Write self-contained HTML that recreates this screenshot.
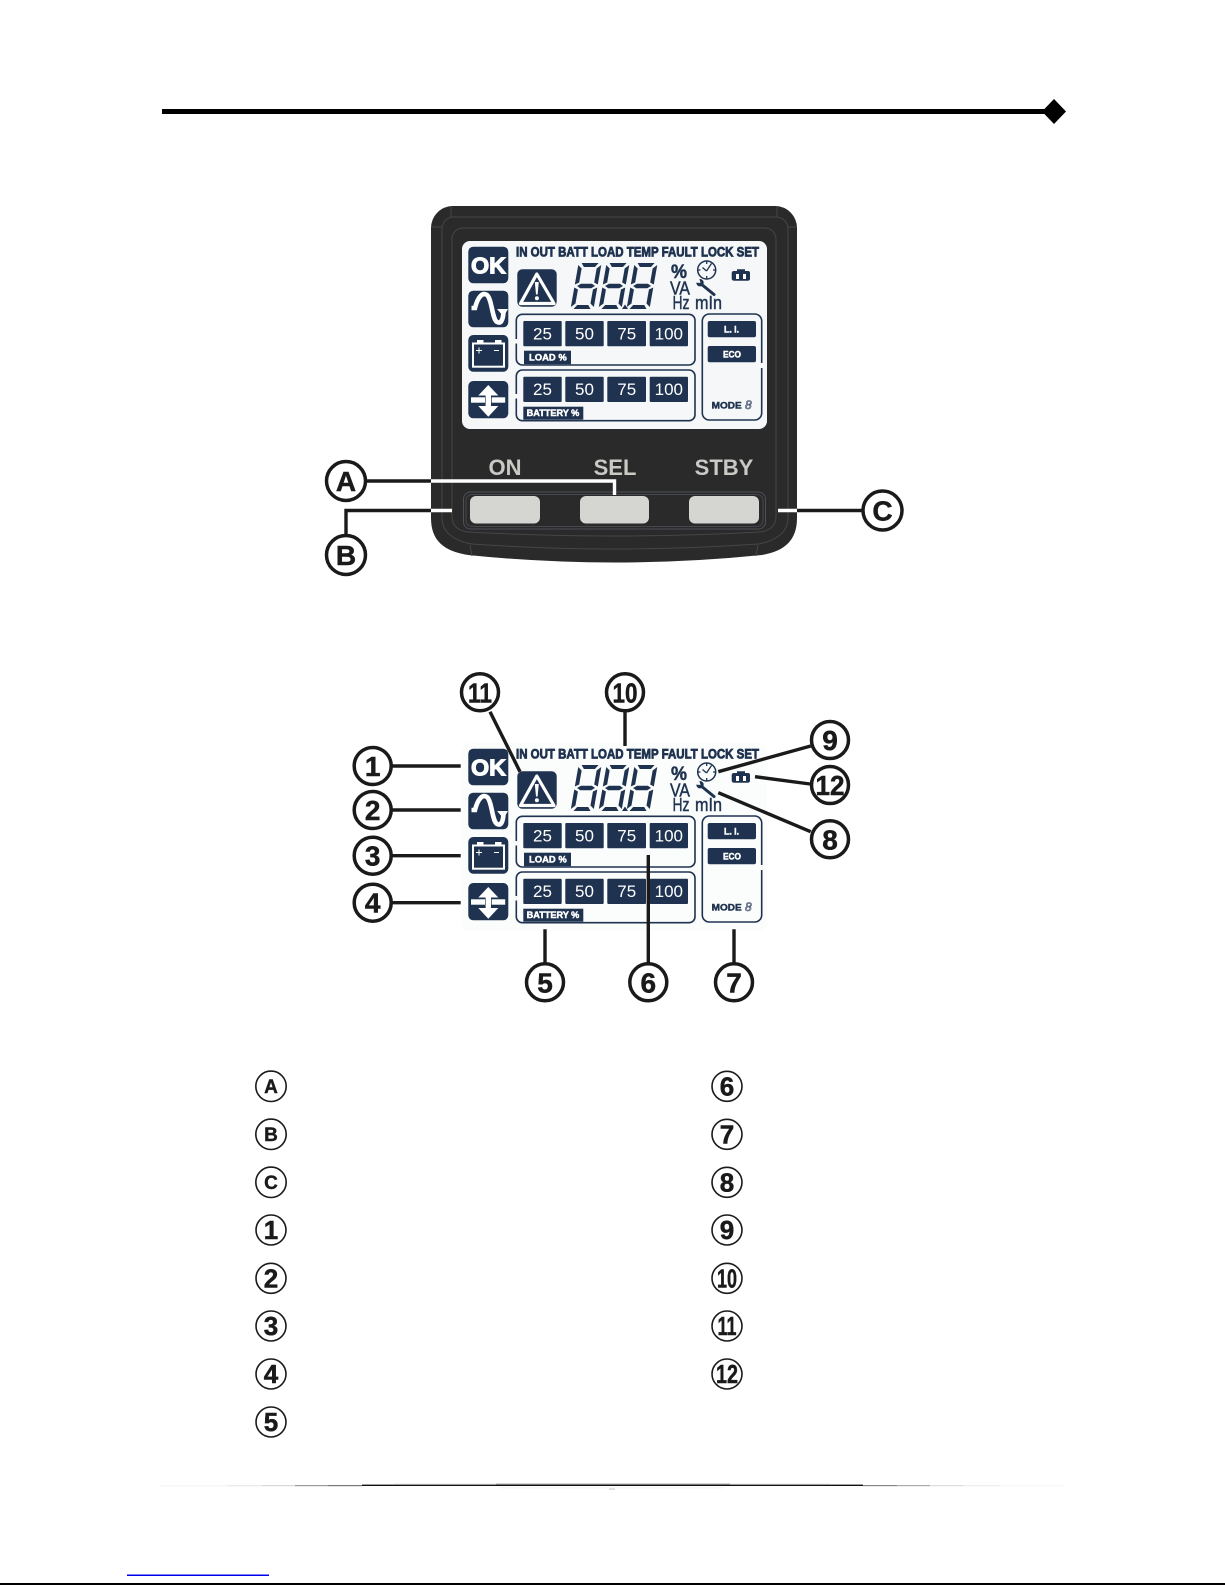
<!DOCTYPE html>
<html>
<head>
<meta charset="utf-8">
<style>
html,body{margin:0;padding:0;background:#fff}
svg{display:block;font-family:"Liberation Sans",sans-serif}
.t{fill:#fff;font-size:17px;text-anchor:middle}
.h{fill:#1f3350;stroke:#1f3350;stroke-width:.8;font-weight:bold;font-size:13.5px}
.s{fill:#fff;stroke:#fff;stroke-width:.45;font-weight:bold;font-size:9px}
.u{fill:#1f3350;stroke:#1f3350;stroke-width:.45;font-size:18px}
.c{fill:#fff;stroke:#1a1a1a;stroke-width:3.5}
.l{fill:none;stroke:#1a1a1a;stroke-width:3.4}
.n{fill:#1a1a1a;stroke:#1a1a1a;stroke-width:.5;font-weight:bold;text-anchor:middle;font-size:28px}
.lc{fill:#fff;stroke:#1a1a1a;stroke-width:1.6}
.ln{fill:#1a1a1a;stroke:#1a1a1a;stroke-width:.5;font-weight:bold;text-anchor:middle;font-size:26px}
.ll{fill:#1a1a1a;stroke:#1a1a1a;stroke-width:.4;font-weight:bold;text-anchor:middle;font-size:19px}
.k{fill:#c9c9c5;font-weight:bold;font-size:22px;text-anchor:middle}
.f{fill:none;stroke:#464646;stroke-width:1}
</style>
</head>
<body>
<svg xmlns="http://www.w3.org/2000/svg" width="1225" height="1585" viewBox="0 0 1225 1585">
<defs>
<g id="d" fill="#1f3350">
<polygon points="3,-46 20,-46 17,-42 6,-42"/>
<polygon points="0,-44 4,-40.5 4,-26.5 0,-24.5"/>
<polygon points="23,-44 19,-40.5 19,-26.5 23,-24.5"/>
<polygon points="2.5,-23 6,-25.2 17,-25.2 20.5,-23 17,-20.8 6,-20.8"/>
<polygon points="0,-21.5 4,-19.5 4,-5.5 0,-2"/>
<polygon points="23,-21.5 19,-19.5 19,-5.5 23,-2"/>
<polygon points="3,0 6,-4 17,-4 20,0"/>
</g>
<g id="art">
<rect x="468.3" y="246.7" width="40" height="36.6" rx="5" fill="#1f3350"/>
<rect x="468.3" y="290.7" width="40" height="36.6" rx="5" fill="#1f3350"/>
<path d="M471.5 308H475C478 296 483 292 487 295C492 299 492 319 497 322C501 324 503 320 503.5 312" fill="none" stroke="#fff" stroke-width="4.6"/>
<polygon points="497,309 508,309 503.5,316.5" fill="#fff"/>
<rect x="468.3" y="335" width="40" height="36.7" rx="5" fill="#1f3350"/>
<rect x="473" y="343.5" width="31" height="23.2" fill="#1f3350" stroke="#fff" stroke-width="2"/>
<rect x="477" y="340" width="6.5" height="3.5" fill="#fff"/>
<rect x="495" y="340" width="6.5" height="3.5" fill="#fff"/>
<path d="M476 350.5h6M479 347.5v6M494 350.5h5" stroke="#fff" stroke-width="1" fill="none"/>
<rect x="468.3" y="381" width="40" height="37.3" rx="5" fill="#1f3350"/>
<path d="M488.3 385L498.3 395.5H491V406H498.3L488.3 416.7L478.3 406H485.6V395.5H478.3Z" fill="#fff"/>
<rect x="471" y="397.3" width="14" height="5.4" fill="#fff"/>
<rect x="491.7" y="397.3" width="13.5" height="5.4" fill="#fff"/>
<rect x="517.3" y="269.3" width="39.4" height="37.4" rx="5" fill="#1f3350"/>
<polygon points="536.8,274 520.5,303.5 554,303.5" fill="#1f3350" stroke="#fff" stroke-width="3.2" stroke-linejoin="round"/>
<polygon points="534.8,282 538.8,282 537.6,294.5 536,294.5" fill="#fff"/>
<circle cx="536.9" cy="298.3" r="2" fill="#fff"/>
<use href="#d" transform="translate(570.5,309) skewX(-10)"/>
<use href="#d" transform="translate(598.5,309) skewX(-10)"/>
<use href="#d" transform="translate(626.5,309) skewX(-10)"/>
<polygon points="622,309 625,304.5 628,309" fill="#1f3350"/>
<circle cx="706.7" cy="270" r="9" fill="none" stroke="#1f3350" stroke-width="1.5"/>
<path d="M706.5 271L711.5 263.5M706.5 271L702.5 267.5M706.7 261.5v2.5M706.7 276v2.5M698 270h2.5M713 270h2.5" stroke="#1f3350" stroke-width="1.3" fill="none"/>
<path d="M700.5 283.5L714 294.5" stroke="#1f3350" stroke-width="3" stroke-linecap="round" fill="none"/>
<circle cx="700" cy="282.7" r="3.7" fill="#1f3350"/>
<polygon points="700.5,283 695,282.5 699,277.5" fill="#f8f9f9"/>
<path d="M734 280.7Q731.7 280.7 731.7 278.5V273Q731.7 271 734 271H737V269.3H745V271H748Q750 271 750 273V278.5Q750 280.7 748 280.7Z" fill="#1f3350"/>
<rect x="736" y="274" width="3" height="5" fill="#fff"/>
<rect x="743" y="274" width="3" height="5" fill="#fff"/>
<rect x="516.3" y="314.3" width="178.7" height="50.7" rx="6" fill="none" stroke="#1f3350" stroke-width="1.6"/>
<rect x="514" y="339" width="5" height="4.5" fill="#f8f9f9"/>
<rect x="516.3" y="370" width="178.7" height="50.7" rx="6" fill="none" stroke="#1f3350" stroke-width="1.6"/>
<rect x="514" y="394" width="5" height="4.5" fill="#f8f9f9"/>
<g fill="#1f3350">
<rect x="523.3" y="321" width="38.4" height="25.3" rx="1"/>
<rect x="565.3" y="321" width="38.4" height="25.3" rx="1"/>
<rect x="607.3" y="321" width="38.7" height="25.3" rx="1"/>
<rect x="649.7" y="321" width="38.3" height="25.3" rx="1"/>
<rect x="523.3" y="376.7" width="38.4" height="25.3" rx="1"/>
<rect x="565.3" y="376.7" width="38.4" height="25.3" rx="1"/>
<rect x="607.3" y="376.7" width="38.7" height="25.3" rx="1"/>
<rect x="649.7" y="376.7" width="38.3" height="25.3" rx="1"/>
<rect x="524" y="350.7" width="47" height="13.5"/>
<rect x="523.3" y="406.7" width="60" height="13"/>
<rect x="707.7" y="321" width="48.3" height="16.3" rx="2"/>
<rect x="707.7" y="346" width="48.3" height="16.3" rx="2"/>
</g>
<rect x="702.3" y="314" width="59.4" height="106" rx="7" fill="none" stroke="#1f3350" stroke-width="1.6"/>
<rect x="759.5" y="363" width="4.5" height="5" fill="#f8f9f9"/>
</g>
</defs>

<!-- header rule -->
<rect x="162" y="109" width="885" height="5" fill="#000"/>
<polygon points="1054,99 1066,111.5 1054,124 1042,111.5" fill="#000"/>

<!-- device panel -->
<path d="M453 206H775A22 22 0 0 1 797 228V518C797 540 785 551 762 555Q614 570 468 555C443 551 431 540 431 518V228A22 22 0 0 1 453 206Z" fill="#2a2a2a"/>
<path d="M452 217H776A12 12 0 0 1 788 229V518C788 532 776 541 758 544Q614 554 472 544C454 541 442 532 442 518V229A12 12 0 0 1 452 217Z" class="f"/>
<path d="M463 228H765A11 11 0 0 1 776 239V516Q776 530 760 532Q614 540 468 532Q452 530 452 516V239A11 11 0 0 1 463 228Z" class="f"/>
<path d="M451 206V217M777 206V217M431 227H442M788 227H797M470 545L472 556M758 545L756 556" class="f"/>

<!-- first LCD -->
<rect x="462" y="241" width="305" height="188" rx="8" fill="#f6f7f8"/>
<use href="#art"/>
<text class="h" x="516" y="256.5" textLength="243" lengthAdjust="spacingAndGlyphs">IN OUT BATT LOAD TEMP FAULT LOCK SET</text>
<text x="471" y="273.5" fill="#fff" stroke="#fff" stroke-width="1.1" font-weight="bold" font-size="23" textLength="35" lengthAdjust="spacingAndGlyphs">OK</text>
<text x="671" y="278" fill="#1f3350" stroke="#1f3350" stroke-width=".5" font-weight="bold" font-size="19" textLength="16" lengthAdjust="spacingAndGlyphs">%</text>
<text class="u" x="670" y="294.5" textLength="20" lengthAdjust="spacingAndGlyphs">VA</text>
<text class="u" x="672.5" y="309" textLength="17" lengthAdjust="spacingAndGlyphs">Hz</text>
<text class="u" x="695" y="309" textLength="27" lengthAdjust="spacingAndGlyphs">mIn</text>
<text class="t" x="542.5" y="339.5">25</text><text class="t" x="584.5" y="339.5">50</text><text class="t" x="626.7" y="339.5">75</text><text class="t" x="668.8" y="339.5">100</text>
<text class="t" x="542.5" y="395.2">25</text><text class="t" x="584.5" y="395.2">50</text><text class="t" x="626.7" y="395.2">75</text><text class="t" x="668.8" y="395.2">100</text>
<text class="s" x="529" y="360.5" textLength="37.7" lengthAdjust="spacingAndGlyphs">LOAD %</text>
<text class="s" x="526.7" y="416" textLength="52.6" lengthAdjust="spacingAndGlyphs">BATTERY %</text>
<text class="s" x="724" y="332.5" textLength="15" lengthAdjust="spacingAndGlyphs">L. I.</text>
<text class="s" x="723" y="357.5" textLength="18" lengthAdjust="spacingAndGlyphs">ECO</text>
<text class="s" style="fill:#1f3350;stroke:#1f3350" x="711.7" y="408.5" textLength="30" lengthAdjust="spacingAndGlyphs">MODE</text>
<text x="745" y="409" font-size="12" font-style="italic" fill="none" stroke="#1f3350" stroke-width=".6">8</text>

<!-- buttons -->
<rect x="463.5" y="492" width="302" height="37" rx="7" fill="none" stroke="#4c5058" stroke-width="1"/>
<rect x="466" y="494.5" width="297" height="32" rx="6" fill="none" stroke="#44474e" stroke-width="1"/>
<rect x="470" y="496" width="70" height="27.5" rx="6" fill="#d5d6d1"/>
<rect x="580" y="496" width="69" height="27.5" rx="6" fill="#d5d6d1"/>
<rect x="689" y="496" width="70" height="27.5" rx="6" fill="#d5d6d1"/>
<text class="k" x="505" y="475">ON</text>
<text class="k" x="615" y="475">SEL</text>
<text class="k" x="724" y="475">STBY</text>

<!-- A B C connectors -->
<path class="l" d="M365 481H431"/>
<path d="M431 481H614.5V495" fill="none" stroke="#fff" stroke-width="3.4"/>
<path class="l" d="M346 535V510.5H431"/>
<path d="M431 510.5H452" fill="none" stroke="#fff" stroke-width="3.4"/>
<path d="M778 510.5H797" fill="none" stroke="#fff" stroke-width="3.4"/>
<path class="l" d="M797 510.5H863"/>
<circle class="c" cx="346" cy="481" r="19.5"/><text class="n" x="346" y="491">A</text>
<circle class="c" cx="346" cy="555" r="19.5"/><text class="n" x="346" y="565">B</text>
<circle class="c" cx="882.5" cy="510.5" r="19.5"/><text class="n" x="882.5" y="520.5">C</text>

<!-- second LCD -->
<rect x="462" y="743" width="305" height="188" rx="8" fill="#fbfcfc"/>
<use href="#art" y="502"/>
<text class="h" x="516" y="758.5" textLength="243" lengthAdjust="spacingAndGlyphs">IN OUT BATT LOAD TEMP FAULT LOCK SET</text>
<text x="471" y="775.5" fill="#fff" stroke="#fff" stroke-width="1.1" font-weight="bold" font-size="23" textLength="35" lengthAdjust="spacingAndGlyphs">OK</text>
<text x="671" y="780" fill="#1f3350" stroke="#1f3350" stroke-width=".5" font-weight="bold" font-size="19" textLength="16" lengthAdjust="spacingAndGlyphs">%</text>
<text class="u" x="670" y="796.5" textLength="20" lengthAdjust="spacingAndGlyphs">VA</text>
<text class="u" x="672.5" y="811" textLength="17" lengthAdjust="spacingAndGlyphs">Hz</text>
<text class="u" x="695" y="811" textLength="27" lengthAdjust="spacingAndGlyphs">mIn</text>
<text class="t" x="542.5" y="841.5">25</text><text class="t" x="584.5" y="841.5">50</text><text class="t" x="626.7" y="841.5">75</text><text class="t" x="668.8" y="841.5">100</text>
<text class="t" x="542.5" y="897.2">25</text><text class="t" x="584.5" y="897.2">50</text><text class="t" x="626.7" y="897.2">75</text><text class="t" x="668.8" y="897.2">100</text>
<text class="s" x="529" y="862.5" textLength="37.7" lengthAdjust="spacingAndGlyphs">LOAD %</text>
<text class="s" x="526.7" y="918" textLength="52.6" lengthAdjust="spacingAndGlyphs">BATTERY %</text>
<text class="s" x="724" y="834.5" textLength="15" lengthAdjust="spacingAndGlyphs">L. I.</text>
<text class="s" x="723" y="859.5" textLength="18" lengthAdjust="spacingAndGlyphs">ECO</text>
<text class="s" style="fill:#1f3350;stroke:#1f3350" x="711.7" y="910.5" textLength="30" lengthAdjust="spacingAndGlyphs">MODE</text>
<text x="745" y="911" font-size="12" font-style="italic" fill="none" stroke="#1f3350" stroke-width=".6">8</text>

<!-- numbered connectors -->
<path class="l" d="M490 711.7L520 771.7"/>
<path class="l" d="M625 711.7V746"/>
<path class="l" d="M810.7 746L718.3 771.7"/>
<path class="l" d="M810 784L755 776.7"/>
<path class="l" d="M810.7 831.7L718.3 792.7"/>
<path class="l" d="M391.7 766H460.7M391.7 810H460.7M391.7 855.7H460.7M391.7 902.7H460.7"/>
<path class="l" d="M545 929.3V962.7M648.3 855V962.7M734 929.3V962.7"/>
<circle class="c" cx="480" cy="692.3" r="18.5"/><text class="n" x="480" y="702.5" textLength="24" lengthAdjust="spacingAndGlyphs">11</text>
<circle class="c" cx="625" cy="692.3" r="18.5"/><text class="n" x="625" y="702.5" textLength="25" lengthAdjust="spacingAndGlyphs">10</text>
<circle class="c" cx="830" cy="740" r="18.5"/><text class="n" x="830" y="750">9</text>
<circle class="c" cx="830" cy="785" r="18.5"/><text class="n" x="830" y="795" textLength="29" lengthAdjust="spacingAndGlyphs">12</text>
<circle class="c" cx="830" cy="839.3" r="18.5"/><text class="n" x="830" y="849.3">8</text>
<circle class="c" cx="372.7" cy="766" r="18.5"/><text class="n" x="372.7" y="776">1</text>
<circle class="c" cx="372.7" cy="810" r="18.5"/><text class="n" x="372.7" y="820">2</text>
<circle class="c" cx="372.7" cy="855.7" r="18.5"/><text class="n" x="372.7" y="865.7">3</text>
<circle class="c" cx="372.7" cy="902.7" r="18.5"/><text class="n" x="372.7" y="912.7">4</text>
<circle class="c" cx="545" cy="982.3" r="18.5"/><text class="n" x="545" y="992.3">5</text>
<circle class="c" cx="648.3" cy="982.3" r="18.5"/><text class="n" x="648.3" y="992.3">6</text>
<circle class="c" cx="734" cy="982.3" r="18.5"/><text class="n" x="734" y="992.3">7</text>

<!-- legend -->
<circle class="lc" cx="271" cy="1086.3" r="15.2"/><text class="ll" x="271" y="1093">A</text>
<circle class="lc" cx="271" cy="1134.3" r="15.2"/><text class="ll" x="271" y="1141">B</text>
<circle class="lc" cx="271" cy="1182.3" r="15.2"/><text class="ll" x="271" y="1189">C</text>
<circle class="lc" cx="271" cy="1230" r="15"/><text class="ln" x="271" y="1239">1</text>
<circle class="lc" cx="271" cy="1278.3" r="15"/><text class="ln" x="271" y="1287.3">2</text>
<circle class="lc" cx="271" cy="1326" r="15"/><text class="ln" x="271" y="1335">3</text>
<circle class="lc" cx="271" cy="1374" r="15"/><text class="ln" x="271" y="1383">4</text>
<circle class="lc" cx="271" cy="1422" r="15"/><text class="ln" x="271" y="1431">5</text>
<circle class="lc" cx="727" cy="1086.3" r="15"/><text class="ln" x="727" y="1095.3">6</text>
<circle class="lc" cx="727" cy="1134.3" r="15"/><text class="ln" x="727" y="1143.3">7</text>
<circle class="lc" cx="727" cy="1182.3" r="15"/><text class="ln" x="727" y="1191.3">8</text>
<circle class="lc" cx="727" cy="1230" r="15"/><text class="ln" x="727" y="1239">9</text>
<circle class="lc" cx="727" cy="1278.3" r="15"/><text class="ln" x="727" y="1287.3" textLength="20" lengthAdjust="spacingAndGlyphs">10</text>
<circle class="lc" cx="727" cy="1326" r="15"/><text class="ln" x="727" y="1335" textLength="19" lengthAdjust="spacingAndGlyphs">11</text>
<circle class="lc" cx="727" cy="1374" r="15"/><text class="ln" x="727" y="1383" textLength="22" lengthAdjust="spacingAndGlyphs">12</text>

<!-- footer -->
<rect x="160" y="1485.3" width="68" height="1" fill="#f2f2f2"/>
<rect x="228" y="1485.3" width="34" height="1" fill="#e4e4e4"/>
<rect x="262" y="1485" width="33" height="1.2" fill="#d8d8d8"/>
<rect x="295" y="1485" width="33" height="1.2" fill="#9a9a9a"/>
<rect x="328" y="1485" width="34" height="1.2" fill="#777"/>
<rect x="362" y="1484.6" width="501" height="1.4" fill="#111"/>
<rect x="863" y="1485" width="34" height="1.2" fill="#888"/>
<rect x="897" y="1485" width="33" height="1.2" fill="#aaa"/>
<rect x="930" y="1485" width="33" height="1.2" fill="#ddd"/>
<rect x="963" y="1485.3" width="37" height="1" fill="#e8e8e8"/>
<rect x="1000" y="1485.3" width="64" height="1" fill="#f4f4f4"/>
<rect x="394" y="1483.7" width="102" height=".9" fill="#ddd"/>
<rect x="496" y="1483.6" width="234" height="1" fill="#999"/>
<rect x="730" y="1483.7" width="100" height=".9" fill="#ddd"/>
<rect x="500" y="1487.5" width="224" height=".8" fill="#f2f2f2"/>
<rect x="609" y="1488.5" width="6" height="1.2" fill="#ccc"/>
<rect x="127" y="1574.5" width="142" height="1.5" fill="#0000ee"/>
<rect x="0" y="1583" width="1225" height="2" fill="#000"/>
</svg>
</body>
</html>
